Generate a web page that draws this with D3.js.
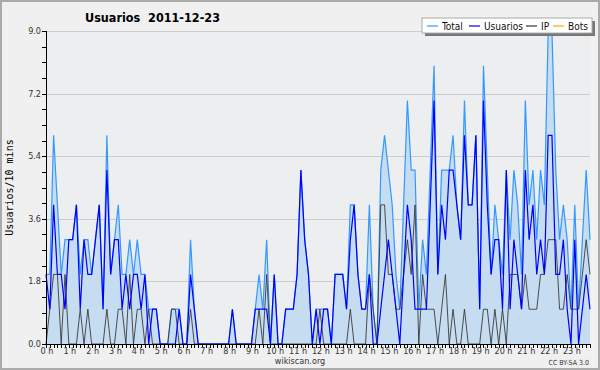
<!DOCTYPE html>
<html>
<head>
<meta charset="utf-8">
<script src="https://cdn.jsdelivr.net/npm/d3@7"></script>
<style>
  body { margin: 0; background: #fff; }
  svg text { font-family: "DejaVu Sans Condensed", "DejaVu Sans", sans-serif; }
</style>
</head>
<body>
<div id="chart"></div>
<script>
// Usuarios per 10 minutes, 2011-12-23 (144 slots, 0:00 .. 23:50)
var total = [
  2,2,6,4,2,3,3,3,4,2,3,3,2,3,4,1,6,2,3,4,2,2,3,2,
  3,2,2,1,1,1,0,0,0,1,1,1,0,0,3,1,0,0,0,0,0,0,0,0,
  0,1,0,0,0,0,0,1,2,1,3,0,2,0,0,1,1,1,2,5,3,2,0,1,
  1,1,1,0,2,2,2,1,4,4,2,1,1,4,1,0,5,6,5,4,2,1,4,7,
  5,5,1,3,2,5,8,2,5,5,5,6,4,3,7,4,4,6,1,8,5,2,4,3,
  2,5,3,5,4,2,7,4,5,3,5,4,9,9,5,3,4,3,1,4,1,3,5,3
];
var usuarios = [
  2,1,4,2,2,1,3,3,4,1,3,2,2,3,4,1,5,2,3,3,1,2,1,2,
  2,1,2,0,1,1,0,0,0,0,0,1,0,0,2,1,0,0,0,0,0,0,0,0,
  0,1,0,0,0,0,0,1,1,1,1,0,2,0,0,1,1,1,2,5,3,2,0,1,
  0,1,1,0,2,2,2,1,3,4,2,1,1,2,0,0,1,2,3,2,1,0,2,4,
  3,1,1,1,1,4,7,2,4,3,5,5,4,3,6,4,4,6,1,7,4,2,3,3,
  1,5,1,3,2,1,5,3,4,2,3,2,6,6,2,2,3,1,0,3,0,1,2,1
];
var ip = [
  0,1,2,2,0,2,0,0,0,1,0,1,0,0,0,0,1,0,0,1,1,0,2,0,
  1,1,0,1,0,0,0,0,0,1,1,0,0,0,1,0,0,0,0,0,0,0,0,0,
  0,0,0,0,0,0,0,0,1,0,2,0,0,0,0,0,0,0,0,0,0,0,0,0,
  1,0,0,0,0,0,0,0,1,0,0,0,0,2,1,0,4,4,2,2,1,1,2,3,
  2,4,0,2,1,1,1,0,1,2,0,1,0,0,1,0,0,0,0,1,1,0,1,0,
  1,0,2,2,2,1,2,1,1,1,2,2,3,3,3,1,1,2,1,1,1,2,3,2
];
var hourLabels = ["0 h","1 h","2 h","3 h","4 h","5 h","6 h","7 h","8 h","9 h","10 h","11 h",
  "12 h","13 h","14 h","15 h","16 h","17 h","18 h","19 h","20 h","21 h","22 h","23 h"];
var yTicks = [0, 1.8, 3.6, 5.4, 7.2, 9.0];
var legendItems = ["Total", "Usuarios", "IP", "Bots"];
var legendColors = ["#3399ff", "#0000ff", "#333333", "#ffa500"];

(function () {
  var width = 600, height = 370;
  var svg = d3.select("#chart").append("svg")
      .attr("width", width).attr("height", height);

  // frame
  svg.append("rect")
      .attr("x", 1).attr("y", 1).attr("width", width - 2).attr("height", height - 2)
      .attr("fill", "#f0f0f0").attr("stroke", "#aaaaaa").attr("stroke-width", 2);

  var pl = 46, pr = 590, pt = 31, pb = 344;
  var x = d3.scaleLinear().domain([0, total.length - 1]).range([pl, pr]);
  var y = d3.scaleLinear().domain([0, 9]).range([pb, pt]);

  svg.append("rect")
      .attr("x", pl).attr("y", pt).attr("width", pr - pl).attr("height", pb - pt)
      .attr("fill", "#eceef0");

  // grid
  svg.selectAll("line.grid")
    .data(yTicks.slice(1))
    .enter().append("line")
      .attr("class", "grid")
      .attr("x1", pl).attr("x2", pr)
      .attr("y1", function (d) { return Math.round(y(d)) + 0.5; })
      .attr("y2", function (d) { return Math.round(y(d)) + 0.5; })
      .attr("stroke", "#cccccc").attr("stroke-width", 1);

  // total area + lines
  var area = d3.area()
      .x(function (d, i) { return x(i); })
      .y0(y(0))
      .y1(function (d) { return y(d); });
  var line = d3.line()
      .x(function (d, i) { return x(i); })
      .y(function (d) { return y(d); });

  svg.append("path").datum(total)
      .attr("d", area).attr("fill", "#c6dcf0");
  svg.append("path").datum(total)
      .attr("d", line).attr("fill", "none")
      .attr("stroke", "#3399ff").attr("stroke-width", 1.2);
  svg.append("path").datum(ip)
      .attr("d", line).attr("fill", "none")
      .attr("stroke", "#333333").attr("stroke-opacity", 0.85).attr("stroke-width", 1);
  svg.append("path").datum(usuarios)
      .attr("d", line).attr("fill", "none")
      .attr("stroke", "#0000ff").attr("stroke-width", 1.2);

  // y axis
  var yAxis = svg.append("g");
  yAxis.append("line")
      .attr("x1", pl + 0.5).attr("x2", pl + 0.5)
      .attr("y1", pt).attr("y2", pb + 0.5)
      .attr("stroke", "#000");
  yAxis.selectAll("line.ytick")
    .data(d3.range(0, 21).map(function (k) { return k * 0.45; }))
    .enter().append("line")
      .attr("class", "ytick")
      .attr("x1", pl - 4).attr("x2", pl)
      .attr("y1", function (d) { return Math.round(y(d)) + 0.5; })
      .attr("y2", function (d) { return Math.round(y(d)) + 0.5; })
      .attr("stroke", "#000");
  yAxis.selectAll("text")
    .data(yTicks)
    .enter().append("text")
      .attr("x", pl - 5)
      .attr("y", function (d) { return y(d) + 3; })
      .attr("text-anchor", "end")
      .attr("font-size", "9px").attr("fill", "#333")
      .text(function (d) { return d.toFixed(1); });

  // x axis
  var xAxis = svg.append("g");
  xAxis.append("line")
      .attr("x1", pl).attr("x2", pr)
      .attr("y1", pb + 0.5).attr("y2", pb + 0.5)
      .attr("stroke", "#000");
  xAxis.selectAll("line.xtick")
    .data(d3.range(0, total.length))
    .enter().append("line")
      .attr("class", "xtick")
      .attr("x1", function (d) { return Math.round(x(d)) + 0.5; })
      .attr("x2", function (d) { return Math.round(x(d)) + 0.5; })
      .attr("y1", pb).attr("y2", pb + 4)
      .attr("stroke", "#000");
  xAxis.selectAll("text")
    .data(hourLabels)
    .enter().append("text")
      .attr("x", function (d, i) { return x(i * 6) + 1; })
      .attr("y", pb + 10)
      .attr("text-anchor", "middle")
      .attr("font-size", "9px").attr("fill", "#333")
      .text(function (d) { return d; });

  // y label
  svg.append("text")
      .attr("transform", "translate(13," + (pt + pb) / 2 + ") rotate(-90)")
      .attr("text-anchor", "middle")
      .style("font-family", "'DejaVu Sans Mono', monospace")
      .attr("font-size", "10px").attr("fill", "#000")
      .text("Usuarios/10 mins");

  // title
  svg.append("text")
      .attr("x", 85).attr("y", 22)
      .attr("font-size", "12.5px").attr("font-weight", "bold").attr("fill", "#000")
      .text("Usuarios\u00a0\u00a02011-12-23");

  // footer
  svg.append("text")
      .attr("x", 300).attr("y", 364)
      .attr("text-anchor", "middle")
      .attr("font-size", "9px").attr("fill", "#333")
      .text("wikiscan.org");
  svg.append("text")
      .attr("x", 589).attr("y", 365)
      .attr("text-anchor", "end")
      .attr("font-size", "7px").attr("fill", "#333")
      .text("CC BY-SA 3.0");

  // legend
  var lg = svg.append("g");
  lg.append("rect")
      .attr("x", 425).attr("y", 21).attr("width", 170).attr("height", 15)
      .attr("fill", "#777");
  lg.append("rect")
      .attr("x", 422).attr("y", 18).attr("width", 170).attr("height", 15)
      .attr("fill", "#fff").attr("stroke", "#aaa");
  var lgX = [427, 469, 526, 553];
  legendItems.forEach(function (name, i) {
    lg.append("line")
        .attr("x1", lgX[i]).attr("x2", lgX[i] + 11)
        .attr("y1", 26).attr("y2", 26)
        .attr("stroke", legendColors[i]).attr("stroke-width", 1.2);
    lg.append("text")
        .attr("x", lgX[i] + 15).attr("y", 29.5)
        .attr("font-size", "10px").attr("fill", "#111")
        .text(name);
  });
})();
</script>
</body>
</html>
